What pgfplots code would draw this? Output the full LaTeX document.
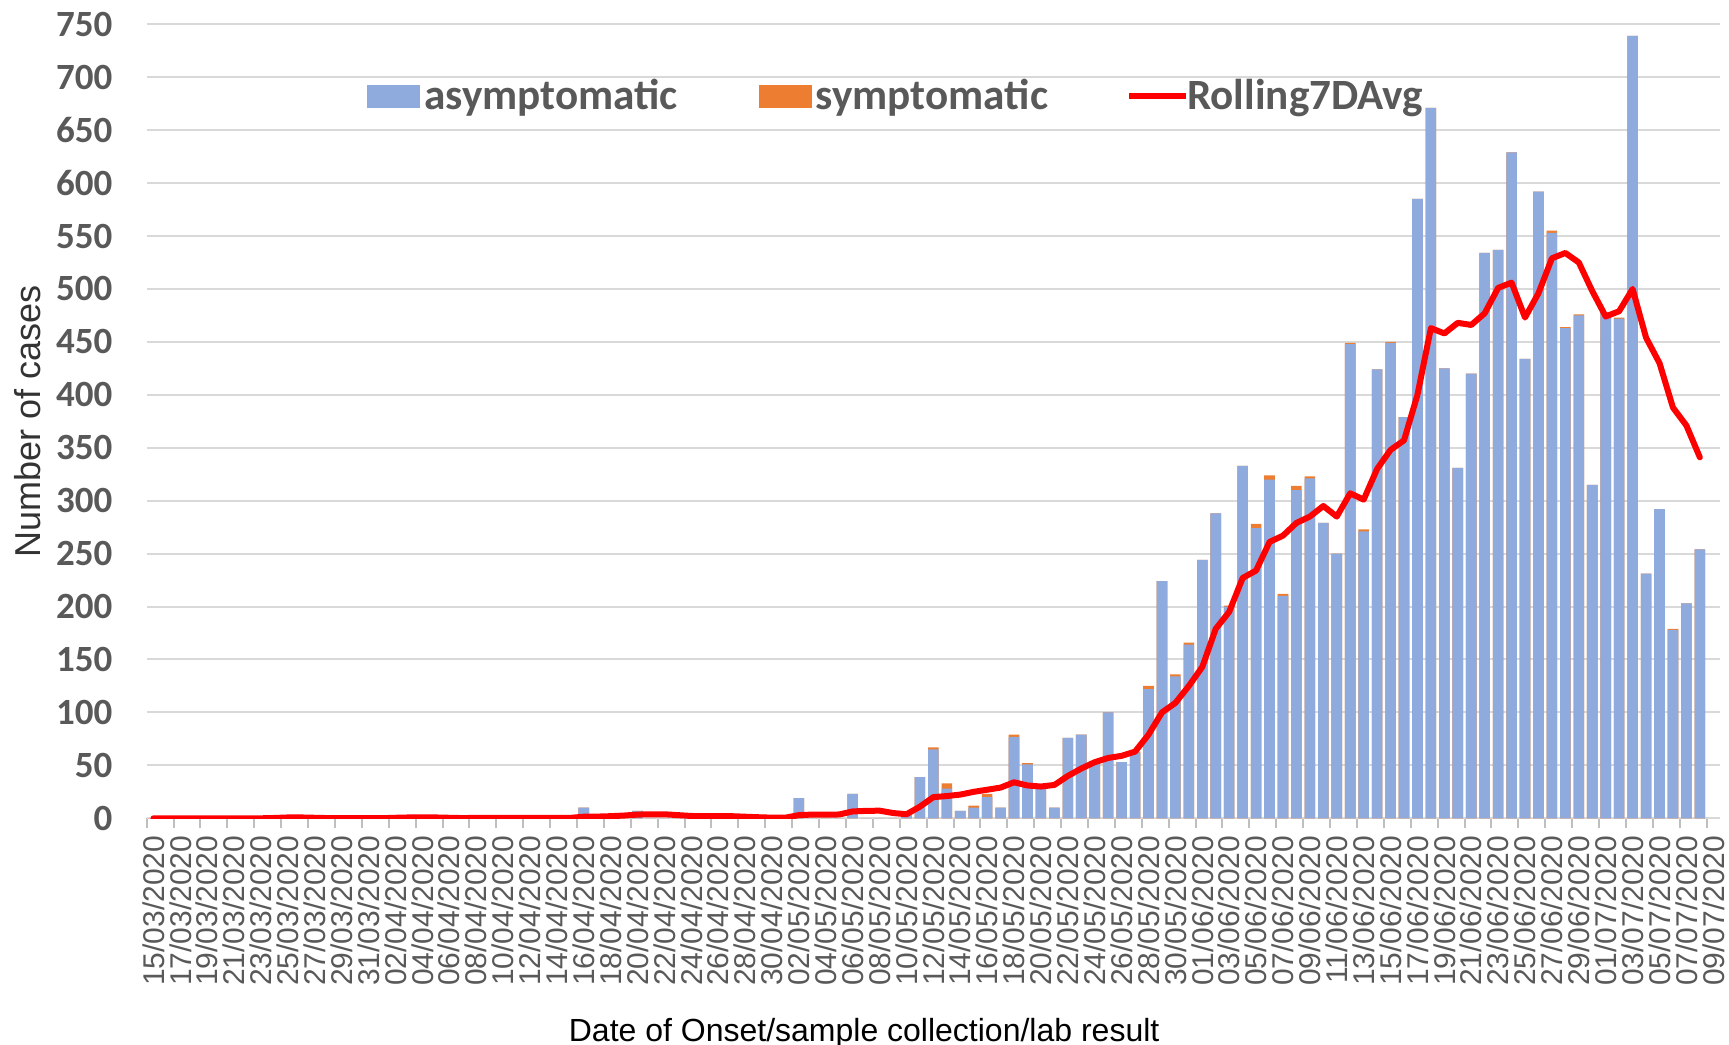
\documentclass[border=0pt]{standalone}
\usepackage{fontspec}
\setmainfont{Liberation Sans}
\newfontfamily\carlito{Carlito}
\usepackage{pgfplots}
\usepackage{pgfplotstable}
\pgfplotsset{compat=1.18}
\definecolor{asym}{HTML}{8FAADC}
\definecolor{sym}{HTML}{ED7D31}
\definecolor{txtgray}{HTML}{595959}
\definecolor{gridgray}{HTML}{D9D9D9}
\definecolor{ticgray}{HTML}{BFBFBF}
\definecolor{lblgray}{HTML}{333333}

\pgfplotstableread{
i asym total avg
0 0 0 0
1 0 0 0
2 0 0 0
3 0 0 0
4 0 0 0
5 0 0 0
6 0 0 0
7 0 0 0
8 0 0 0
9 0 0 0.3
10 0 0 0.8
11 0 0 0.8
12 0 0 0.5
13 0 0 0.2
14 0 0 0.1
15 0 0 0.1
16 0 0 0.1
17 0 0 0.1
18 0 0 0.5
19 0 0 0.8
20 0 0 0.9
21 0 0 0.8
22 0 0 0.5
23 0 0 0.2
24 0 0 0.4
25 0 0 0.4
26 0 0 0.4
27 0 0 0.4
28 0 0 0.4
29 0 0 0.4
30 0 0 0.4
31 0 0 0.4
32 10 10 1.5
33 0 0 1.6
34 0 0 2.0
35 0 0 2.6
36 7 7 3.5
37 0 0 3.8
38 0 0 3.8
39 0 0 3.0
40 0 0 2.2
41 0 0 2.0
42 0 0 2.0
43 0 0 2.0
44 0 0 1.5
45 0 0 1.0
46 0 0 0.6
47 0 0 0.6
48 19 19 3.0
49 0 0 3.5
50 0 0 3.5
51 0 0 3.6
52 23 23 6.5
53 0 0 7.0
54 0 0 7.2
55 0 0 5.0
56 3 3 3.8
57 39 39 11
58 65 67 20
59 28 33 21
60 7 7 22.4
61 10 12 25
62 20 23 27
63 10 10 29
64 77 79 34
65 51 52 31
66 30 30 30
67 10 10 31.5
68 76 76 40
69 79 79 47
70 54 54 53
71 100 100 57
72 53 53 59
73 62 63 63
74 122 125 79
75 224 224 100
76 134 136 109
77 164 166 125
78 244 244 143
79 288 288 179
80 200 201 195
81 333 333 227
82 274 278 234
83 320 324 261
84 210 212 267
85 310 314 279
86 321 323 285
87 279 279 295
88 250 250 285
89 448 449 307
90 271 273 301
91 424 424 330
92 449 450 348
93 379 379 357
94 585 585 400
95 671 671 463
96 425 425 458
97 331 331 468
98 420 420 466
99 534 534 477
100 537 537 501
101 629 629 506
102 434 434 473
103 592 592 496
104 553 555 529
105 463 464 534
106 475 476 525
107 315 315 498
108 478 478 474
109 472 473 479
110 739 739 500
111 231 231 454
112 292 292 430
113 178 179 388
114 203 203 371
115 254 254 341
}\datatable

\begin{document}
\begin{tikzpicture}
\begin{axis}[
  at={(73.35pt,112.85pt)}, anchor=south west,
  scale only axis, width=786.65pt, height=397pt,
  xmin=-0.5, xmax=116.5, ymin=0, ymax=750,
  ytick={0,50,...,750},
  xtick={-0.5,1.5,...,115.5},
  xticklabels={15/03/2020,17/03/2020,19/03/2020,21/03/2020,23/03/2020,25/03/2020,27/03/2020,29/03/2020,31/03/2020,02/04/2020,04/04/2020,06/04/2020,08/04/2020,10/04/2020,12/04/2020,14/04/2020,16/04/2020,18/04/2020,20/04/2020,22/04/2020,24/04/2020,26/04/2020,28/04/2020,30/04/2020,02/05/2020,04/05/2020,06/05/2020,08/05/2020,10/05/2020,12/05/2020,14/05/2020,16/05/2020,18/05/2020,20/05/2020,22/05/2020,24/05/2020,26/05/2020,28/05/2020,30/05/2020,01/06/2020,03/06/2020,05/06/2020,07/06/2020,09/06/2020,11/06/2020,13/06/2020,15/06/2020,17/06/2020,19/06/2020,21/06/2020,23/06/2020,25/06/2020,27/06/2020,29/06/2020,01/07/2020,03/07/2020,05/07/2020,07/07/2020,09/07/2020},
  ymajorgrids, grid style={gridgray, line width=1pt},
  axis lines*=left,
  y axis line style={draw=none},
  x axis line style={gridgray, line width=1pt},
  tick align=outside,
  major tick length=5pt,
  ytick style={draw=none},
  xtick style={draw=ticgray, line width=1pt},
  /pgf/number format/assume math mode=true,
  yticklabel style={font=\carlito\bfseries\fontsize{18.5}{18.5}\selectfont, text=txtgray, inner sep=0pt, xshift=-12pt},
  xticklabel style={font=\fontsize{15}{15}\selectfont, text=txtgray, xshift=3.36pt, rotate=90, anchor=east, inner sep=0pt, inner xsep=3.5pt},
  ylabel={Number of cases},
  ylabel style={at={(axis description cs:-0.0757,0.5)}, anchor=center, font=\fontsize{18}{18}\selectfont, text=lblgray},
  xlabel={Date of Onset/sample collection/lab result},
  xlabel style={at={(axis description cs:0.456,-0.2805)}, anchor=base, font=\fontsize{16}{16}\selectfont, text=black},
  legend columns=3,
  legend cell align=left,
  legend style={at={(axis description cs:0.140,0.9097)}, anchor=west, draw=none, fill=none, inner sep=0pt,
    font=\carlito\bfseries\fontsize{21.6}{21.6}\selectfont, text=txtgray,
    nodes={inner sep=2pt},
    /tikz/every odd column/.append style={column sep=0pt},
    /tikz/every even column/.append style={column sep=38.5pt},
    /tikz/column 4/.append style={column sep=35.5pt}},
]
\addlegendimage{legend image code/.code={\fill[asym] (0pt,-5.5pt) rectangle (26pt,5.5pt);}}
\addlegendentry{asymptomatic}
\addlegendimage{legend image code/.code={\fill[sym] (0pt,-5.5pt) rectangle (26pt,5.5pt);}}
\addlegendentry{symptomatic}
\addlegendimage{legend image code/.code={\path[draw=none, fill=none, use as bounding box] (0pt,-1.5pt) rectangle (27pt,1.5pt); \draw[red, line width=3pt] (0pt,0pt) -- (28.5pt,0pt);}}
\addlegendentry{Rolling7DAvg}

\addplot[ybar, bar width=5.3pt, bar shift=0pt, fill=sym, draw=none, forget plot] table[x=i, y=total] {\datatable};
\addplot[ybar, bar width=5.3pt, bar shift=0pt, fill=asym, draw=none, forget plot] table[x=i, y=asym] {\datatable};
\addplot[red, line width=3pt, line join=round, line cap=round, mark=none, forget plot] table[x=i, y=avg] {\datatable};
\end{axis}
\pgfresetboundingbox
\useasboundingbox (0,0) rectangle (864.5pt,522pt);
\end{tikzpicture}
\end{document}
